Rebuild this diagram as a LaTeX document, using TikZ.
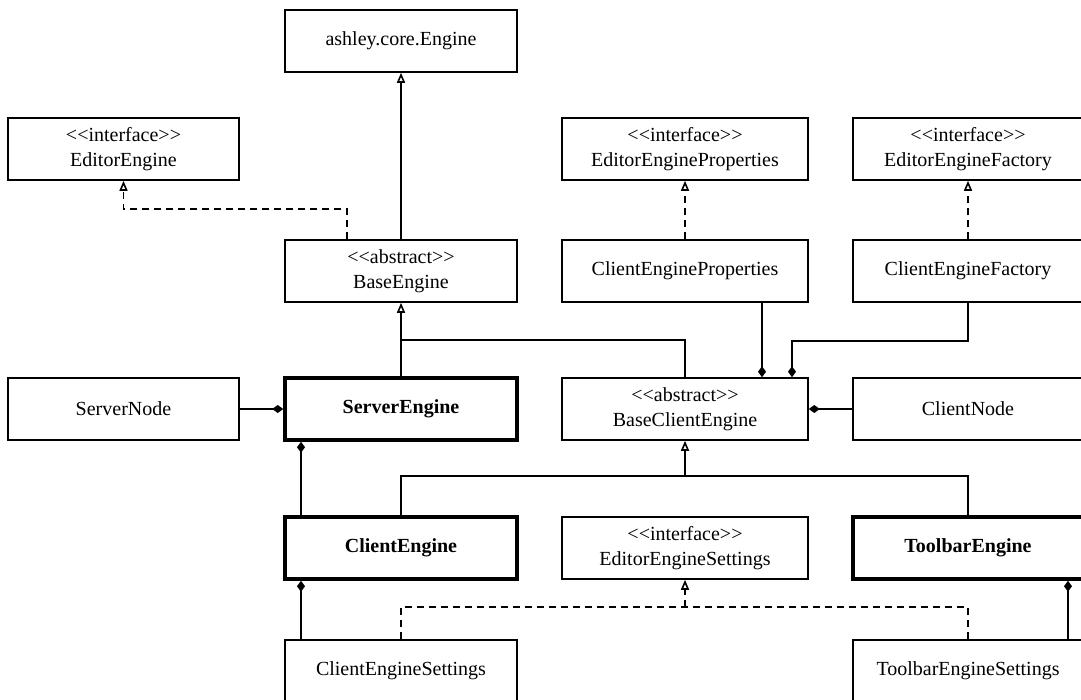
\documentclass[tikz,border=0pt]{standalone}
\usepackage{fontspec}
\setmainfont{Liberation Serif}[Ligatures=TeXOff]
\usetikzlibrary{arrows.meta}
\begin{document}
\begin{tikzpicture}[x=1pt,y=-1pt,
  box/.style={draw, line width=1.6pt, inner sep=0pt, align=center, minimum height=62pt, font=\fontsize{20}{25}\selectfont},
  thickbox/.style={box, line width=3.5pt, font=\fontsize{20}{25}\selectfont\bfseries},
  wa/.style={minimum width=231pt},
  wb/.style={minimum width=232pt},
  wc/.style={minimum width=246pt},
  wd/.style={minimum width=230pt},
  conn/.style={line width=1.6pt},
  gen/.style={conn, -{Triangle[open,length=10pt,width=8pt]}},
  real/.style={gen, dash pattern=on 7pt off 5pt},
  dashline/.style={conn, dash pattern=on 7pt off 5pt},
  comp/.style={conn, -{Diamond[length=11pt,width=8pt]}}]
\fill[white] (0,0) rectangle (1081,699);
\useasboundingbox (0,0) rectangle (1081,699);

\node[box,wb] (ashley) at (401,41) {ashley.core.Engine};
\node[box,wa] (ee) at (123.5,149) {<<interface>>\\EditorEngine};
\node[box,wc] (eep) at (685,149) {<<interface>>\\EditorEngineProperties};
\node[box,wd] (eef) at (968,149) {<<interface>>\\EditorEngineFactory};
\node[box,wb] (be) at (401,271) {<<abstract>>\\BaseEngine};
\node[box,wc] (cep) at (685,271) {ClientEngineProperties};
\node[box,wd] (cef) at (968,271) {ClientEngineFactory};
\node[box,wa] (sn) at (123.5,409) {ServerNode};
\node[thickbox,wb] (se) at (401,409) {ServerEngine};
\node[box,wc] (bce) at (685,409) {<<abstract>>\\BaseClientEngine};
\node[box,wd] (cn) at (968,409) {ClientNode};
\node[thickbox,wb] (ce) at (401,548) {ClientEngine};
\node[box,wc] (ees) at (685,548) {<<interface>>\\EditorEngineSettings};
\node[thickbox,wd] (te) at (968,548) {ToolbarEngine};
\node[box,wb] (ces) at (401,671) {ClientEngineSettings};
\node[box,wd] (tes) at (968,671) {ToolbarEngineSettings};

% generalization / realization at the top
\draw[gen] (be) -- (ashley);
\draw[real] ([xshift=-54pt]be.north) -- ++(0,-30) -| (ee.south);
\draw[real] (cep) -- (eep);
\draw[real] (cef) -- (eef);

% BaseClientEngine / ServerEngine -> BaseEngine
\draw[gen] (bce.north) -- ++(0,-37) -| (be.south);
\draw[conn] (se.north) -- ++(0,-37);

% compositions into BaseClientEngine
\draw[comp] ([xshift=77pt]cep.south) -- ([xshift=77pt]bce.north);
\draw[comp] (cef.south) -- ++(0,38) -| ([xshift=107pt]bce.north);
\draw[comp] (cn) -- (bce);

% ServerEngine compositions
\draw[comp] (sn) -- (se);
\draw[comp] ([xshift=-100pt]ce.north) -- ([xshift=-100pt]se.south);

% ClientEngine / ToolbarEngine -> BaseClientEngine
\draw[conn] (ce.north) -- ++(0,-39) coordinate (g1) -| (te.north);
\draw[gen] (g1 -| bce.south) -- (bce.south);

% settings
\draw[comp] ([xshift=-100pt]ces.north) -- ([xshift=-100pt]ce.south);
\draw[comp] ([xshift=100pt]tes.north) -- ([xshift=100pt]te.south);
\draw[dashline] (ces.north) -- ++(0,-32) coordinate (r1) -| (tes.north);
\draw[real] (r1 -| ees.south) -- (ees.south);
\end{tikzpicture}
\end{document}
